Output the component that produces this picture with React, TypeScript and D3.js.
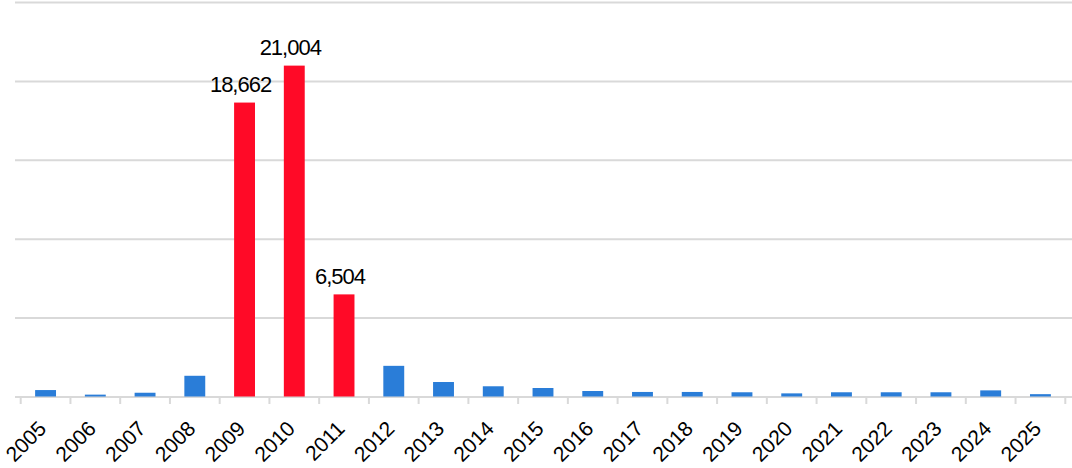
import React from "react";
import * as d3 from "d3";

const years = ["2005","2006","2007","2008","2009","2010","2011","2012","2013","2014","2015","2016","2017","2018","2019","2020","2021","2022","2023","2024","2025"];
const values = [440,150,270,1345,18662,21004,6504,1975,950,680,570,380,320,320,300,230,300,300,300,420,180];
const highlighted = ["2009","2010","2011"];
const yTicks = [0,5000,10000,15000,20000,25000];

const W = 1072, H = 468;
const FONT = "'Liberation Sans', Arial, Helvetica, sans-serif";

export default function App() {
  const x = d3.scaleBand<string>().domain(years).range([20.7, 1065.3]).paddingInner(0.58).paddingOuter(0.29);
  const y = d3.scaleLinear().domain([0, 25100]).range([397, 1]);
  const step = x.step();
  const bw = x.bandwidth();
  const fmt = d3.format(",");
  const edges = years.map((yr) => (x(yr) as number) + bw / 2 - step / 2);
  edges.push((x(years[years.length - 1]) as number) + bw / 2 + step / 2);
  return (
    <svg width={W} height={H} style={{ position: "absolute", left: 0, top: 0, background: "#fff" }} fontFamily={FONT}>
      {yTicks.map((t) => (
        <line key={t} x1={15} x2={W} y1={y(t)} y2={y(t)} stroke="#d9d9d9" strokeWidth={2} />
      ))}
      {edges.map((e, i) => (
        <line key={"t" + i} x1={e} x2={e} y1={397} y2={404} stroke="#d9d9d9" strokeWidth={2} />
      ))}
      {years.map((yr, i) => {
        const hi = highlighted.includes(yr);
        return (
          <rect key={"b" + yr} x={x(yr)} y={y(values[i])} width={bw} height={y(0) - 0.5 - y(values[i])} fill={hi ? "#ff0a27" : "#2a7dd8"} />
        );
      })}
      {years.map((yr, i) =>
        highlighted.includes(yr) ? (
          <text key={"v" + yr} x={(x(yr) as number) + bw / 2 - 4} y={y(values[i]) - 10.5} textAnchor="middle" fontSize={22} letterSpacing={-1} fill="#000">
            {fmt(values[i])}
          </text>
        ) : null
      )}
      {years.map((yr) => {
        const cx = (x(yr) as number) + bw / 2 + 2;
        return (
          <text key={"l" + yr} transform={`translate(${cx},${430}) rotate(-45)`} textAnchor="end" fontSize={21} fill="#000">
            {yr}
          </text>
        );
      })}
    </svg>
  );
}
